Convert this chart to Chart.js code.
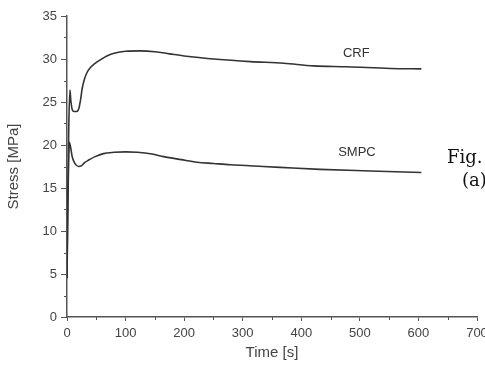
<!DOCTYPE html>
<html>
<head>
<meta charset="utf-8">
<script src="https://cdn.jsdelivr.net/npm/chart.js@4"></script>
<style>
  html, body { margin: 0; padding: 0; background: #fff; overflow: hidden; width: 485px; height: 380px; }
  #wrap { position: relative; width: 500px; height: 380px; }
  .fig { position: absolute; font-family: "DejaVu Serif", serif; font-size: 18px; color: #111; white-space: nowrap; }
</style>
</head>
<body>
<div id="wrap">
  <canvas id="chart" width="500" height="380"></canvas>
  <div class="fig" style="left:447px; top:146px;">Fig.</div>
  <div class="fig" style="left:462px; top:169px;">(a)</div>
</div>
<script>
// stress relaxation curves
const crfTime   = [0, 1, 3, 5, 6.5, 9, 12, 16, 20, 23, 26, 30, 34, 40, 48, 57, 68, 82, 100, 125, 150, 175, 200, 256, 313, 370, 421, 478, 552, 605];
const crfStress = [4.5, 12, 22, 26.4, 25.2, 24.1, 23.9, 23.9, 24.2, 25.2, 26.6, 27.7, 28.4, 29.0, 29.5, 29.9, 30.35, 30.7, 30.9, 30.95, 30.85, 30.6, 30.35, 29.97, 29.7, 29.5, 29.2, 29.1, 28.9, 28.85];

const smpcTime   = [0, 1, 2, 4, 6, 9, 14, 20, 25, 30, 37, 48, 62, 80, 100, 120, 145, 165, 195, 222, 250, 279, 335, 364, 432, 518, 605];
const smpcStress = [4.5, 10, 15, 20.3, 19.8, 18.6, 17.8, 17.5, 17.6, 17.95, 18.25, 18.65, 19.0, 19.15, 19.2, 19.15, 18.95, 18.65, 18.3, 18.0, 17.85, 17.7, 17.5, 17.4, 17.17, 16.98, 16.8];

const curveNames = ['CRF', 'SMPC'];
const nameTime   = [494, 495];
const nameStress = [30.6, 19.1];

const xTicksMinor = [50, 150, 250, 350, 450, 550, 650];
const yTicksMinor = [2.5, 7.5, 12.5, 17.5, 22.5, 27.5, 32.5];

const axisColor = '#555';
const textColor = '#444';
const lineColor = '#333';
const sans = '"Liberation Sans", Arial, sans-serif';

function toPoints(xs, ys) {
  return xs.map((x, i) => ({ x: x, y: ys[i] }));
}

function curve(label, xs, ys) {
  return {
    label: label,
    data: toPoints(xs, ys),
    borderColor: lineColor,
    backgroundColor: lineColor,
    borderWidth: 1.6,
    pointRadius: 0,
    cubicInterpolationMode: 'monotone',
    fill: false
  };
}

// small ticks between the labelled ones + curve names
const extrasPlugin = {
  id: 'extras',
  afterDraw(chart) {
    const ctx = chart.ctx;
    const xs = chart.scales.x, ys = chart.scales.y;
    const area = chart.chartArea;
    ctx.save();
    ctx.strokeStyle = axisColor;
    ctx.lineWidth = 1;
    ctx.beginPath();
    xTicksMinor.forEach(v => {
      const px = Math.round(xs.getPixelForValue(v)) + 0.5;
      ctx.moveTo(px, area.bottom);
      ctx.lineTo(px, area.bottom + 3);
    });
    yTicksMinor.forEach(v => {
      const py = Math.round(ys.getPixelForValue(v)) + 0.5;
      ctx.moveTo(area.left, py);
      ctx.lineTo(area.left - 3, py);
    });
    ctx.stroke();

    ctx.fillStyle = '#333';
    ctx.font = '13px ' + sans;
    ctx.textAlign = 'center';
    ctx.textBaseline = 'middle';
    curveNames.forEach((name, i) => {
      ctx.fillText(name, xs.getPixelForValue(nameTime[i]), ys.getPixelForValue(nameStress[i]));
    });
    ctx.restore();
  }
};

new Chart(document.getElementById('chart'), {
  type: 'line',
  data: {
    datasets: [
      curve('CRF', crfTime, crfStress),
      curve('SMPC', smpcTime, smpcStress)
    ]
  },
  options: {
    responsive: false,
    animation: false,
    layout: { padding: { top: 16, right: 23, bottom: 0, left: 0 } },
    plugins: {
      legend: { display: false },
      tooltip: { enabled: false }
    },
    scales: {
      x: {
        type: 'linear',
        min: 0,
        max: 700,
        border: { color: axisColor, width: 1.5 },
        grid: { drawOnChartArea: false, tickLength: 4, tickColor: axisColor },
        ticks: { stepSize: 100, color: textColor, padding: 5, font: { family: sans, size: 13 } },
        title: { display: true, text: 'Time [s]', color: textColor, font: { family: sans, size: 15 }, padding: { top: 0, bottom: 18 } },
        afterFit(scale) { scale.height = 63; }
      },
      y: {
        min: 0,
        max: 35,
        border: { color: axisColor, width: 1.5 },
        grid: { drawOnChartArea: false, tickLength: 6, tickColor: axisColor },
        ticks: { stepSize: 5, color: textColor, padding: 4, font: { family: sans, size: 13 } },
        title: { display: true, text: 'Stress [MPa]', color: textColor, font: { family: sans, size: 15 }, padding: { top: 5, bottom: 0 } },
        afterFit(scale) { scale.width = 67; }
      }
    }
  },
  plugins: [extrasPlugin]
});
</script>
</body>
</html>
